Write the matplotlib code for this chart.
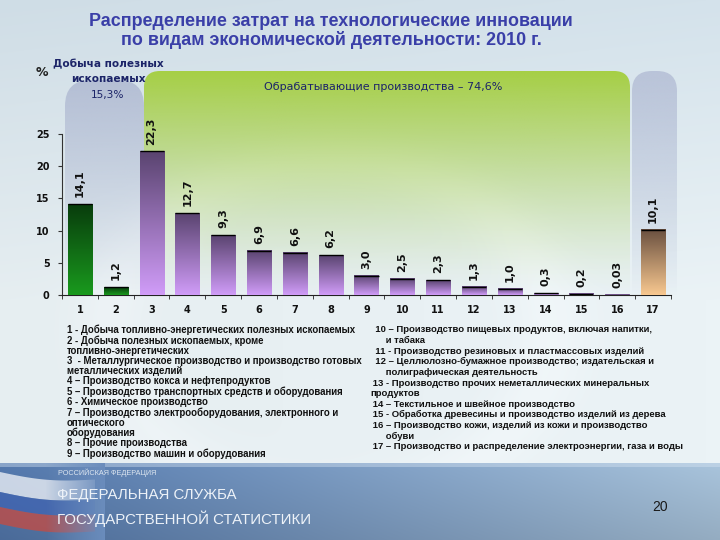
import numpy as np
import matplotlib
matplotlib.use("Agg")
import matplotlib.pyplot as plt
from matplotlib.path import Path
from matplotlib.patches import PathPatch, Polygon
import matplotlib.colors as mcolors

# ---------------- data ----------------
categories = [str(i) for i in range(1, 18)]
values = [14.1, 1.2, 22.3, 12.7, 9.3, 6.9, 6.6, 6.2, 3.0, 2.5, 2.3, 1.3, 1.0, 0.3, 0.2, 0.03, 10.1]
value_labels = ['14,1', '1,2', '22,3', '12,7', '9,3', '6,9', '6,6', '6,2', '3,0', '2,5',
                '2,3', '1,3', '1,0', '0,3', '0,2', '0,03', '10,1']
groups = ['mining'] * 2 + ['manuf'] * 14 + ['energy']
yticks = [0, 5, 10, 15, 20, 25]

title_lines = ["Распределение затрат на технологические инновации",
               "по видам экономической деятельности: 2010 г."]
mining_text = ["Добыча полезных", "ископаемых", "15,3%"]
manuf_text = "Обрабатывающие производства – 74,6%"

legend_left = [
    "1 - Добыча топливно-энергетических полезных ископаемых",
    "2 - Добыча полезных ископаемых, кроме",
    "топливно-энергетических",
    "3  - Металлургическое производство и производство готовых",
    "металлических изделий",
    "4 – Производство кокса и нефтепродуктов",
    "5 – Производство транспортных средств и оборудования",
    "6 - Химическое производство",
    "7 – Производство электрооборудования, электронного и",
    "оптического",
    "оборудования",
    "8 – Прочие производства",
    "9 – Производство машин и оборудования",
]
legend_right = [
    "  10 – Производство пищевых продуктов, включая напитки,",
    "      и табака",
    "  11 - Производство резиновых и пластмассовых изделий",
    "  12 – Целлюлозно-бумажное производство; издательская и",
    "      полиграфическая деятельность",
    " 13 - Производство прочих неметаллических минеральных",
    "продуктов",
    " 14 – Текстильное и швейное производство",
    " 15 - Обработка древесины и производство изделий из дерева",
    " 16 – Производство кожи, изделий из кожи и производство",
    "      обуви",
    " 17 – Производство и распределение электроэнергии, газа и воды",
]
footer_small = "РОССИЙСКАЯ ФЕДЕРАЦИЯ"
footer_big = ["ФЕДЕРАЛЬНАЯ СЛУЖБА", "ГОСУДАРСТВЕННОЙ СТАТИСТИКИ"]
page_number = "20"

# ---------------- figure ----------------
W, H = 720, 540
fig = plt.figure(figsize=(7.2, 5.4), dpi=100)
bg = fig.add_axes([0, 0, 1, 1], zorder=0)
bg.set_xlim(0, W)
bg.set_ylim(H, 0)
bg.axis('off')

# background gradient
yy, xx = np.mgrid[0:H, 0:W]
c_top = np.array(mcolors.to_rgb('#cfdde6'))
c_mid = np.array(mcolors.to_rgb('#e6eef1'))
t = np.clip(yy / 300.0, 0, 1)[..., None]
img = c_top * (1 - t) + c_mid * t
r = np.sqrt(((xx - 330) / 1.3) ** 2 + (yy - 330) ** 2)
ring = np.exp(-((r - 170) / 28.0) ** 2)[..., None] * 0.35
img = img * (1 - ring) + ring * np.array([0.97, 0.98, 0.99])
img = img + (xx / W)[..., None] * 0.02
img = np.clip(img, 0, 1)
bg.imshow(img, extent=(0, W, H, 0), aspect='auto', zorder=0)

# bottom banner
by0 = 463
bh = H - by0
bx = np.linspace(0, 1, W)[None, :, None]
byv = np.linspace(0, 1, bh)[:, None, None]
cl = np.array(mcolors.to_rgb('#5479ae'))
cr = np.array(mcolors.to_rgb('#a9c4dc'))
ban = cl * (1 - bx) + cr * bx
ban = ban * (1 - 0.12 * byv)
ban = ban * np.ones((bh, W, 3))
ban[:4] = ban[:4] * 0.6 + 0.4 * np.array([0.85, 0.9, 0.95])
bg.imshow(np.clip(ban, 0, 1), extent=(0, W, H, by0), aspect='auto', zorder=1)

# flag swoosh
xs = np.linspace(0, 95, 40)
def band(y0, y1, slope):
    top = y0 + slope * xs + 4 * np.sin(xs / 30.0)
    bot = y1 + slope * xs + 4 * np.sin(xs / 30.0)
    return np.vstack([np.column_stack([xs, top]), np.column_stack([xs[::-1], bot[::-1]])])
for (y0, y1, col, a) in [(472, 492, '#f4f6fa', 0.75), (492, 507, '#3b5fb5', 0.6), (507, 524, '#d0483a', 0.7)]:
    bg.add_patch(Polygon(band(y0, y1, 0.08), closed=True, facecolor=col, edgecolor='none', alpha=a, zorder=2))
fade = np.zeros((bh, 60, 4))
fade[..., :3] = mcolors.to_rgb('#6a8cbc')
fade[..., 3] = np.linspace(0, 1, 60)[None, :]
bg.imshow(fade, extent=(45, 105, H, by0), aspect='auto', zorder=3)

ffam = ['Liberation Sans', 'DejaVu Sans']
bg.text(58, 473, footer_small, fontsize=5.2, color='#dde6f0', va='center', ha='left',
        family=ffam, zorder=5)
for i, s in enumerate(footer_big):
    bg.text(57, 495 + 23.5 * i, s, fontsize=10.8, color='#edf2f8', va='center', ha='left',
            family=ffam, zorder=5)
bg.text(652, 507, page_number, fontsize=10, color='#1a1a1a', va='center', ha='left',
        family=ffam, zorder=5)

# panels
def top_rounded(x0, x1, ytop, ybot, rad):
    verts = [(x0, ybot), (x0, ytop + rad), (x0, ytop), (x0 + rad, ytop),
             (x1 - rad, ytop), (x1, ytop), (x1, ytop + rad), (x1, ybot), (x0, ybot)]
    codes = [Path.MOVETO, Path.LINETO, Path.CURVE3, Path.CURVE3,
             Path.LINETO, Path.CURVE3, Path.CURVE3, Path.LINETO, Path.CLOSEPOLY]
    return Path(verts, codes)

def panel(x0, x1, ytop, ybot, rad, color, power, amax=1.0):
    p = PathPatch(top_rounded(x0, x1, ytop, ybot, rad), facecolor='none', edgecolor='none')
    bg.add_patch(p)
    n = 200
    g = np.zeros((n, 2, 4))
    g[..., :3] = mcolors.to_rgb(color)
    g[..., 3] = (amax * (1 - np.linspace(0, 1, n)) ** power)[:, None]
    im = bg.imshow(g, extent=(x0, x1, ybot, ytop), aspect='auto', zorder=2, interpolation='bilinear')
    im.set_clip_path(p)

panel(144, 630, 71, 296, 16, '#a6cf45', 1.3)
panel(65, 144, 80, 296, 26, '#b3bdd4', 1.1, 0.95)
panel(632, 677, 71, 296, 20, '#b8c2d8', 0.9, 0.95)

# titles
for i, s in enumerate(title_lines):
    bg.text(331, 22 + 18 * i, s, fontsize=12.9, fontweight='bold', color='#3a3fa8',
            ha='center', va='center', family=['Liberation Sans', 'DejaVu Sans'], zorder=6)

navy = '#1c2468'
bg.text(42, 73, '%', fontsize=9, fontweight='bold', color='#222', ha='center', va='center', zorder=6)
for i, s in enumerate(mining_text):
    bg.text(108, 64 + 15.5 * i, s, fontsize=7.6, fontweight='bold' if i < 2 else 'normal',
            color=navy, ha='center', va='center', family=['DejaVu Sans'], zorder=6)
bg.text(383, 87, manuf_text, fontsize=8, color=navy, ha='center', va='center',
        family=['DejaVu Sans'], zorder=6)

# legend texts
lfam = ['Liberation Sans', 'DejaVu Sans']
for i, s in enumerate(legend_left):
    bg.text(67, 330 + 10.3 * i, s, fontsize=6.9, fontweight='bold', color='#111',
            ha='left', va='center', family=lfam, zorder=6)
for i, s in enumerate(legend_right):
    bg.text(370, 330 + 10.6 * i, s, fontsize=6.8, fontweight='bold', color='#111',
            ha='left', va='center', family=lfam, zorder=6)

# ---------------- chart axes ----------------
ax = fig.add_axes([62 / W, (H - 295) / H, (671 - 62) / W, (295 - 71) / H], zorder=2)
ax.patch.set_alpha(0)

grad_cols = {
    'mining': ('#083c0c', '#1a9a1e'),
    'manuf': ('#5a4470', '#d09cf8'),
    'energy': ('#6a5040', '#f8c890'),
}
bw = 0.67
xpos = np.arange(1, len(values) + 1)
for x, v, g, lab in zip(xpos, values, groups, value_labels):
    ctop, cbot = (np.array(mcolors.to_rgb(c)) for c in grad_cols[g])
    tt = np.linspace(0, 1, 100)[:, None]
    grad = (ctop * (1 - tt) + cbot * tt)[:, None, :] * np.ones((1, 2, 1))
    ax.imshow(grad, extent=(x - bw / 2, x + bw / 2, 0, v), aspect='auto', zorder=3,
              interpolation='bilinear')
    ax.plot([x - bw / 2, x + bw / 2], [v, v], color='black', lw=1.0, zorder=4,
            solid_capstyle='butt')
    ax.annotate(lab, (x, v), xytext=(0, 5), textcoords='offset points', rotation=90,
                ha='center', va='bottom', fontsize=8, fontweight='bold', color='#111', zorder=5)
ax.set_xlim(0.5, 17.5)
ax.set_ylim(0, 34.8)

ax.set_yticks(yticks)
ax.set_yticklabels([str(v) for v in yticks])
ax.set_xticks(xpos)
ax.set_xticklabels(categories)
ax.set_xticks(np.arange(0.5, 18, 1.0), minor=True)
ax.tick_params(axis='x', which='major', length=0, pad=7, labelsize=7)
ax.tick_params(axis='x', which='minor', length=3, direction='out', color='#222')
ax.tick_params(axis='y', length=3, direction='out', pad=6, labelsize=7, color='#333')
for lb in ax.get_xticklabels() + ax.get_yticklabels():
    lb.set_fontweight('bold')
    lb.set_color('#111')
for s in ['top', 'right']:
    ax.spines[s].set_visible(False)
ax.spines['left'].set_bounds(0, 25)
ax.spines['left'].set_color('#333')
ax.spines['bottom'].set_color('#222')

fig.savefig('out.png', dpi=100)
